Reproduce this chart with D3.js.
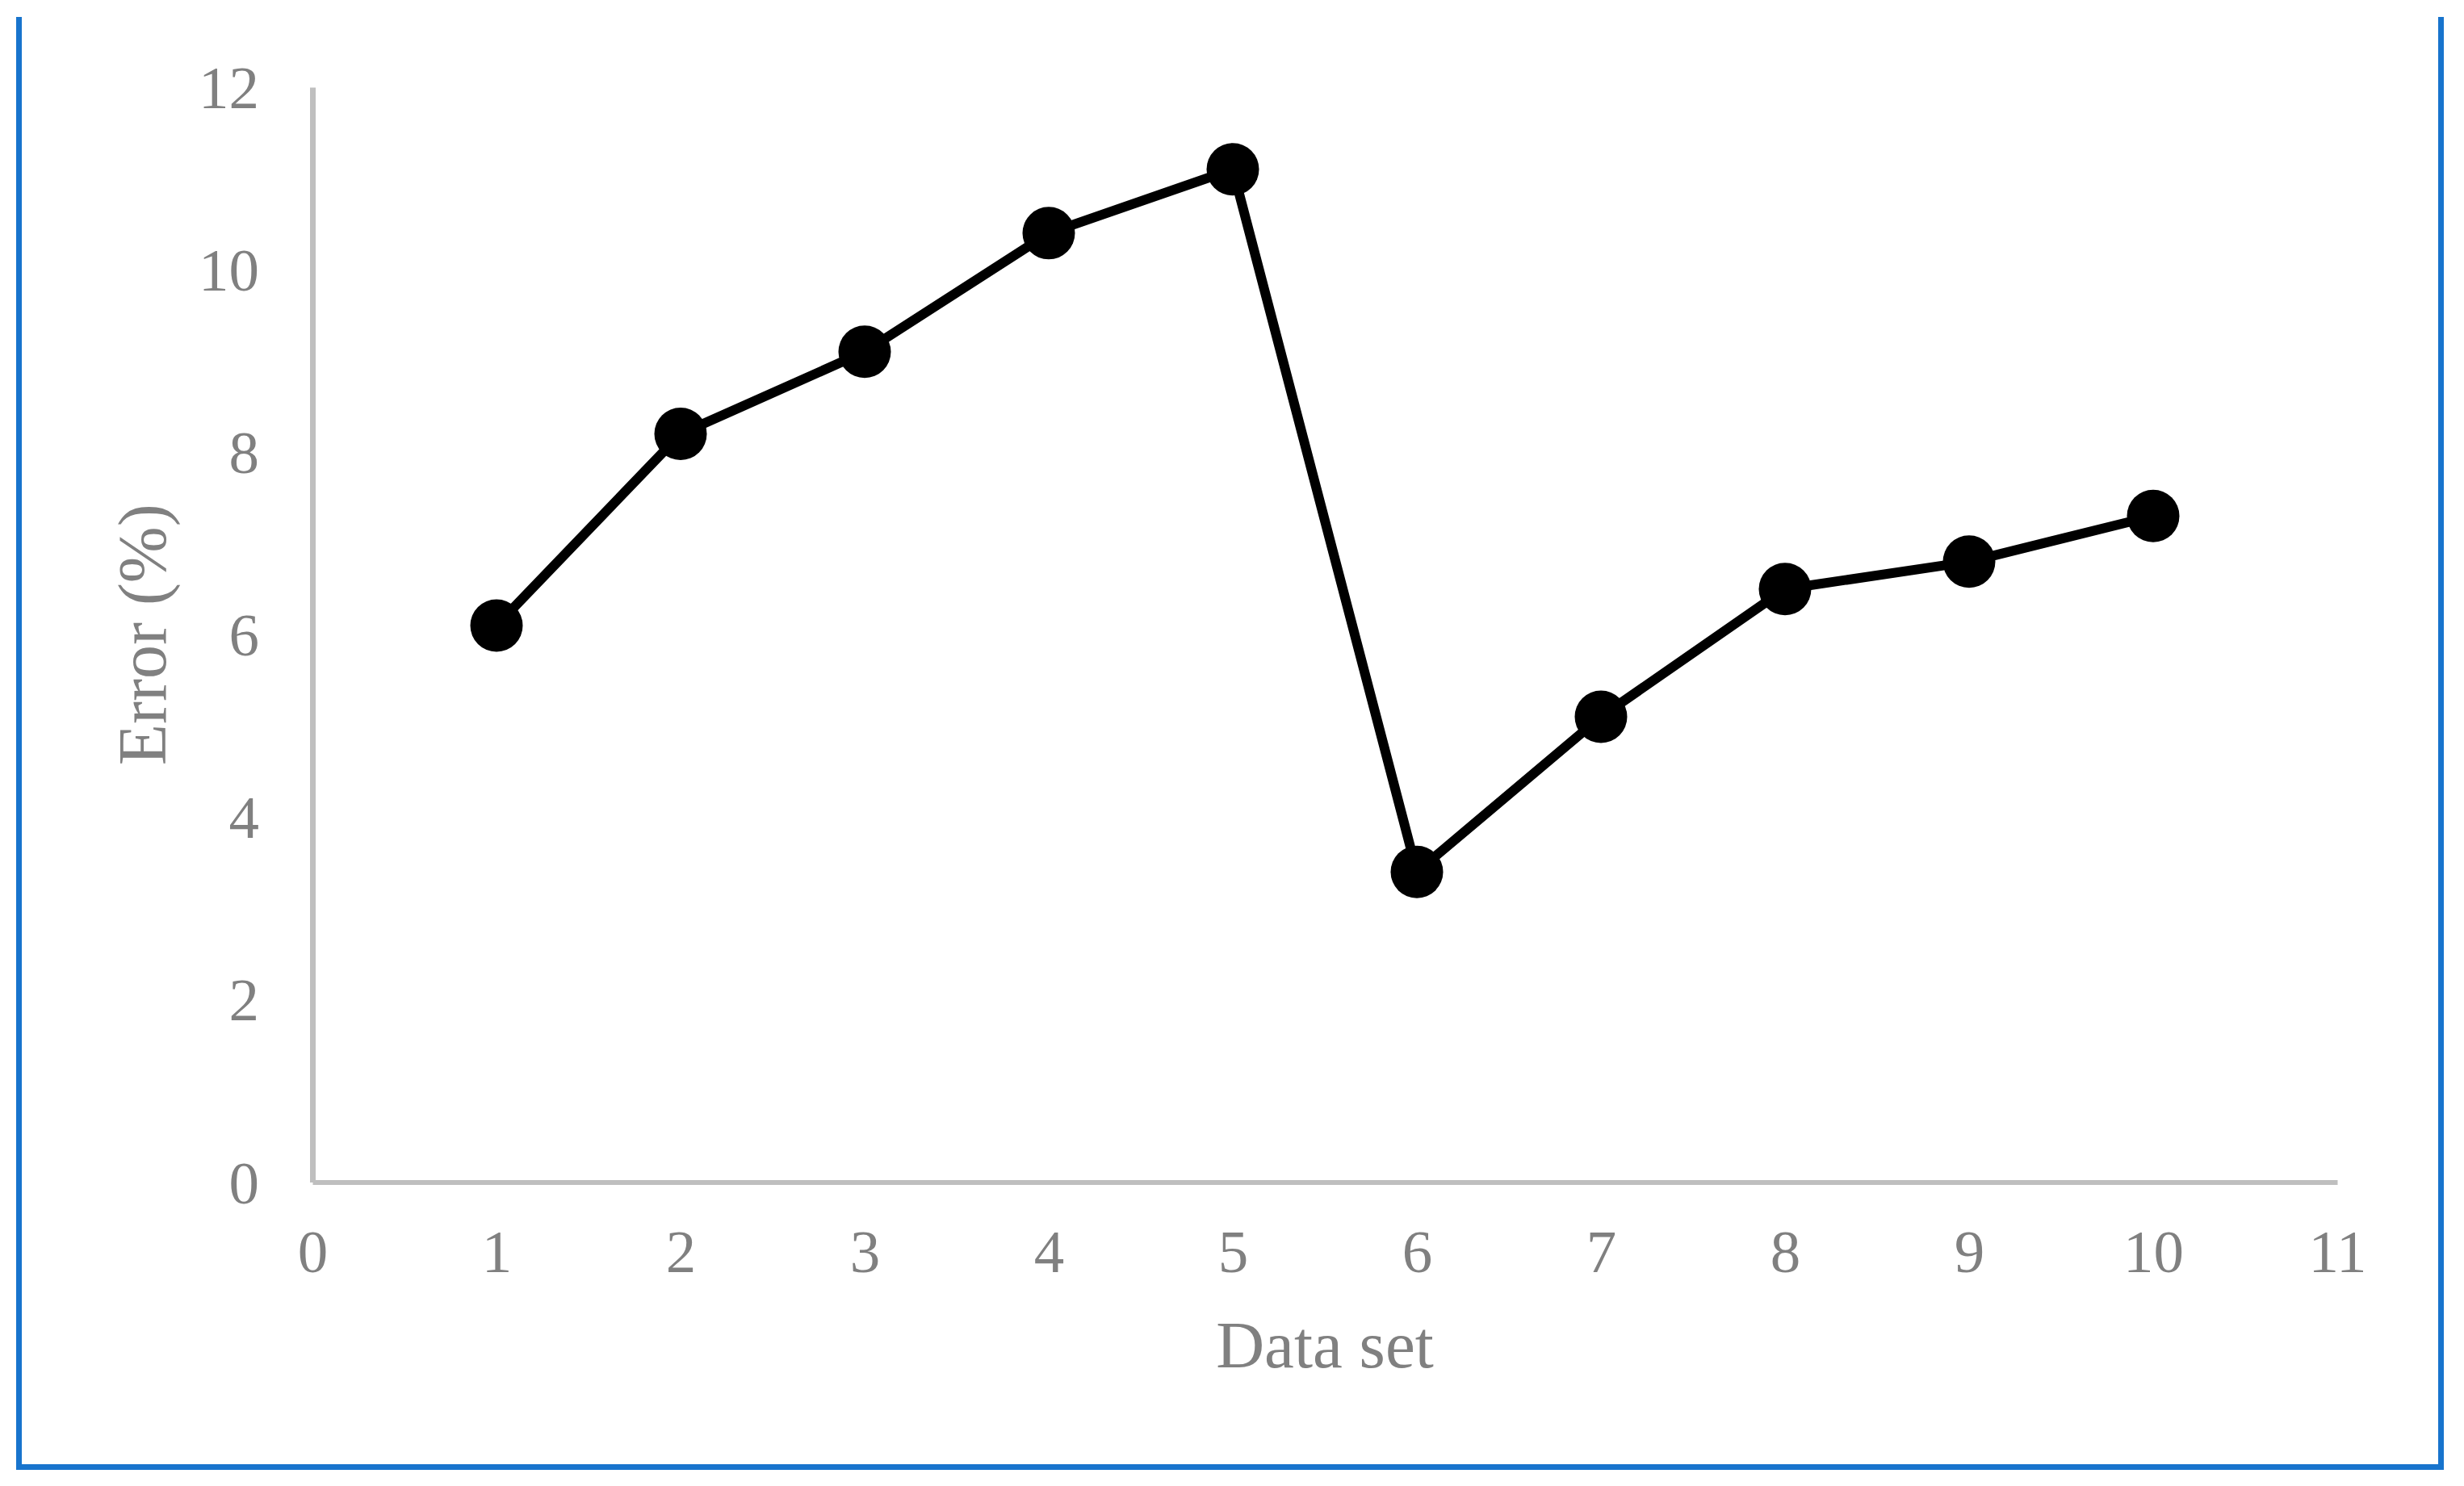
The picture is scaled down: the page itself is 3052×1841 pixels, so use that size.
<!DOCTYPE html>
<html>
<head>
<meta charset="utf-8">
<script src="https://cdn.jsdelivr.net/npm/d3@7"></script>
<style>
  html, body { margin: 0; padding: 0; background: #fff; }
  svg { display: block; }
</style>
</head>
<body>
<script>
// Data
const dataSets = [1, 2, 3, 4, 5, 6, 7, 8, 9, 10];
const errorValues = [6.1, 8.2, 9.1, 10.4, 11.1, 3.4, 5.1, 6.5, 6.8, 7.3];
const xTicks = [0, 1, 2, 3, 4, 5, 6, 7, 8, 9, 10, 11];
const yTicks = [0, 2, 4, 6, 8, 10, 12];
const xTitle = "Data set";
const yTitle = "Error (%)";

const W = 3052, H = 1841;
const svg = d3.select("body").append("svg").attr("width", W).attr("height", H);

// Frame (blue border, left/right/bottom)
const frame = svg.append("g").attr("fill", "none").attr("stroke", "#1874cd").attr("stroke-width", 7);
frame.append("path").attr("d", `M23.5,21 V1817.5 H3023.5 V21`);

const x = d3.scaleLinear().domain([0, 11]).range([387, 2895]);
const y = d3.scaleLinear().domain([0, 12]).range([1464.5, 108]);

const font = "'Liberation Serif', 'Times New Roman', serif";
const textColor = "#808080";
const axisColor = "#bfbfbf";

// X axis
const xAxis = svg.append("g").attr("transform", `translate(0,${y(0)})`)
  .call(d3.axisBottom(x).tickValues(xTicks).tickSize(0).tickPadding(0).tickFormat(d3.format("d")));
xAxis.select(".domain").attr("stroke", axisColor).attr("stroke-width", 6);
xAxis.selectAll("text").attr("font-family", font).attr("font-size", 75).attr("fill", textColor)
  .attr("dy", null).attr("y", 1576 - 1464.5);

// Y axis
const yAxis = svg.append("g").attr("transform", `translate(${x(0)},0)`)
  .call(d3.axisLeft(y).tickValues(yTicks).tickSize(0).tickPadding(66).tickFormat(d3.format("d")));
yAxis.select(".domain").attr("stroke", axisColor).attr("stroke-width", 7);
yAxis.selectAll("text").attr("font-family", font).attr("font-size", 75).attr("fill", textColor)
  .attr("dy", "0.34em");

// Titles
svg.append("text").attr("x", (x(0) + x(11)) / 2).attr("y", 1694)
  .attr("text-anchor", "middle").attr("font-family", font).attr("font-size", 83)
  .attr("fill", textColor).text(xTitle);
svg.append("text").attr("transform", `translate(205,${(y(0) + y(12)) / 2}) rotate(-90)`)
  .attr("text-anchor", "middle").attr("font-family", font).attr("font-size", 84)
  .attr("fill", textColor).text(yTitle);

// Line
const pts = dataSets.map((d, i) => [d, errorValues[i]]);
svg.append("path").datum(pts)
  .attr("fill", "none").attr("stroke", "#000").attr("stroke-width", 12)
  .attr("stroke-linejoin", "round")
  .attr("d", d3.line().x(d => x(d[0])).y(d => y(d[1])));

// Markers
svg.append("g").selectAll("circle").data(pts).join("circle")
  .attr("cx", d => x(d[0])).attr("cy", d => y(d[1])).attr("r", 32.5)
  .attr("fill", "#000");
</script>
</body>
</html>
